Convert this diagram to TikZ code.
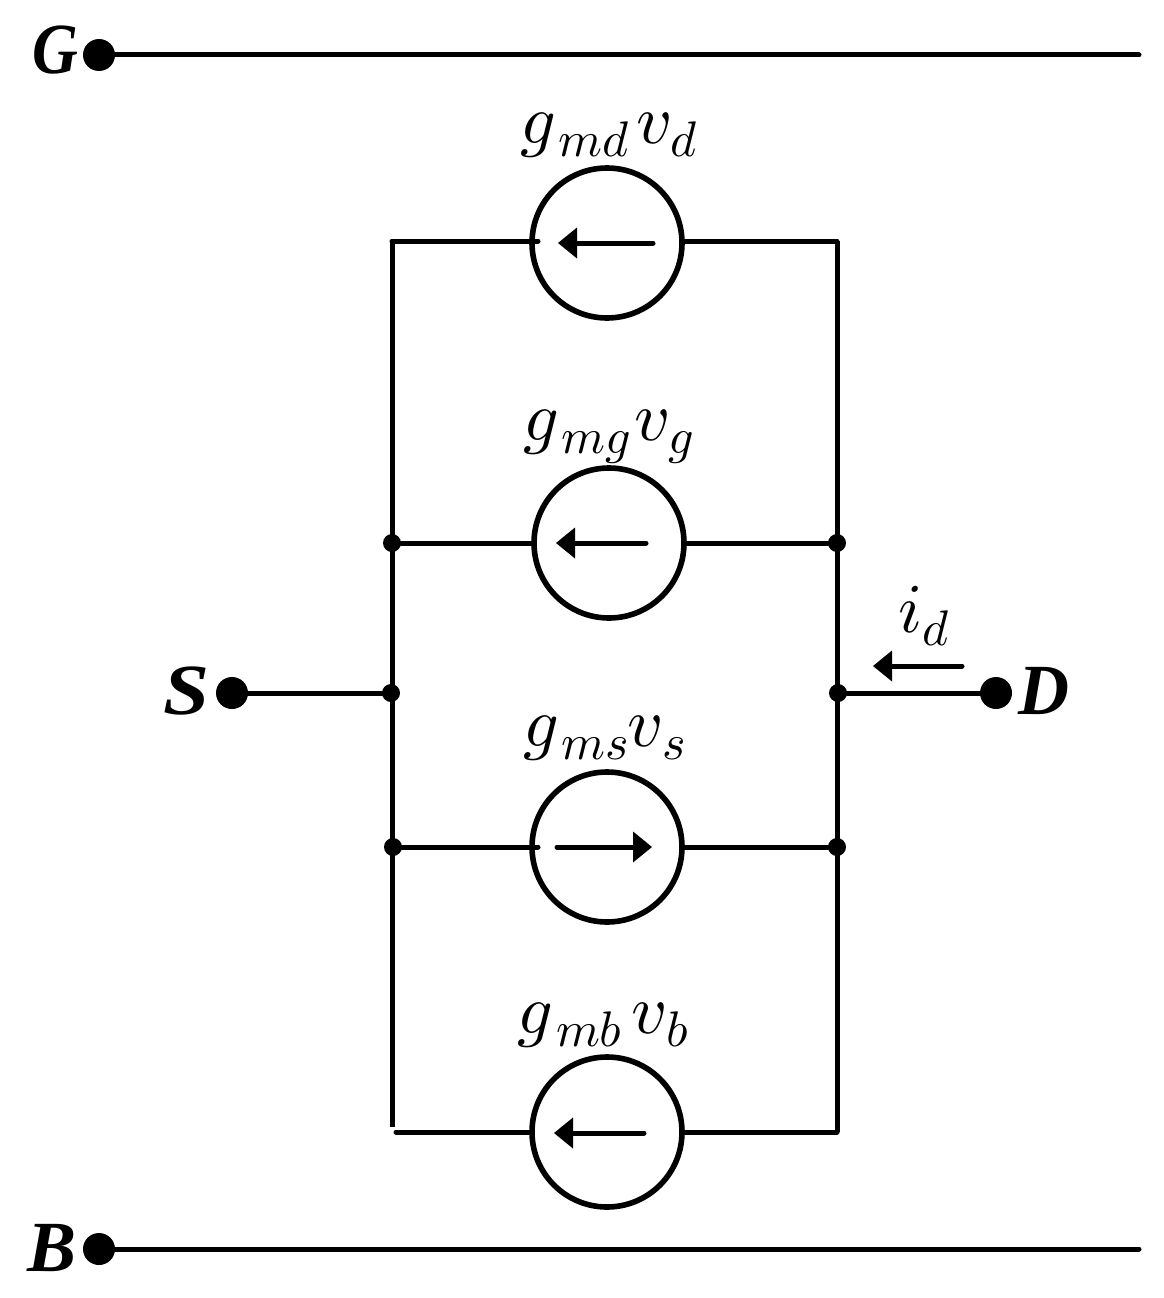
\documentclass[tikz,border=0pt]{standalone}
\usepackage{graphicx}
\usepackage{unicode-math}
\setmathfont{Latin Modern Math}
\newfontfamily\termfont{Liberation Serif}
\usetikzlibrary{arrows.meta}
\newcommand{\biglab}[2]{\fontsize{70}{70}\selectfont$#1$\kern3pt\raisebox{-13pt}{\fontsize{50}{50}\selectfont$#2$}}
\newcommand{\vlab}[2]{\fontsize{70}{70}\selectfont$#1$\kern0pt\raisebox{-13pt}{\fontsize{50}{50}\selectfont$#2$}}
\newcommand{\termtext}[2]{\scalebox{#1}[1]{\fontsize{72}{72}\selectfont\termfont\bfseries\itshape #2}}
\begin{document}
\begin{tikzpicture}[x=1pt,y=-1pt,
 wire/.style={line width=5pt,line cap=round},
 src/.style={circle,draw,line width=5.6pt,minimum size=150pt,inner sep=0pt,fill=white},
 junc/.style={circle,fill=black,minimum size=18pt,inner sep=0pt},
 term/.style={circle,fill=black,minimum size=32pt,inner sep=0pt},
 flow/.style={line width=5pt,line cap=round,-{Triangle[length=19pt,width=31pt,line width=0pt]}},
 lab/.style={inner sep=0pt,anchor=base}]
\useasboundingbox (0,0) rectangle (1164,1298);
% terminals
\node[term] (G) at (99,55) {};
\coordinate (Ge) at (1139,55);
\node[term] (B) at (99,1249) {};
\coordinate (Be) at (1139,1249);
\node[term] (S) at (232,693) {};
\node[term] (D) at (996,693) {};
\draw[wire] (G) -- (Ge);
\draw[wire] (B) -- (Be);
% corners
\coordinate (TL) at (392,241);
\coordinate (TR) at (837,241);
\coordinate (BLe) at (392,1127);
\coordinate (BR) at (837,1132);
\coordinate (BL2) at (396,1132);
\coordinate (i1) at (538,241);
\coordinate (i3) at (538,847);
% sources
\node[src] (s1) at (607,243) {};
\node[src] (s2) at (609,543) {};
\node[src] (s3) at (607,847) {};
\node[src] (s4) at (607,1132) {};
% junctions
\node[junc] (jl1) at (392,543) {};
\node[junc] (jr1) at (837,543) {};
\node[junc] (jl2) at (391,693) {};
\node[junc] (jr2) at (838,693) {};
\node[junc] (jl3) at (393,847) {};
\node[junc] (jr3) at (837,847) {};
\draw[line width=5pt] (TL) -- (BLe);
\draw[line width=5pt] (TR) -- (BR);
\draw[wire] (TL) -- (i1);
\draw[wire] (s1.east |- TR) -- (TR);
\draw[wire] (jl1) -- (s2);
\draw[wire] (s2) -- (jr1);
\draw[wire] (jl3) -- (i3);
\draw[wire] (s3) -- (jr3);
\draw[wire] (BL2) -- (s4.west);
\draw[wire] (s4.east) -- (BR);
\draw[wire] (S) -- (jl2);
\draw[wire] (jr2) -- (D);
% arrows
\coordinate (a1s) at (653,243); \coordinate (a1e) at (558,243);
\coordinate (a2s) at (646,543); \coordinate (a2e) at (556,543);
\coordinate (a3s) at (557,847); \coordinate (a3e) at (652,847);
\coordinate (a4s) at (644,1133); \coordinate (a4e) at (554,1133);
\coordinate (a5s) at (962,666); \coordinate (a5e) at (873,666);
\draw[flow] (a1s) -- (a1e);
\draw[flow] (a2s) -- (a2e);
\draw[flow] (a3s) -- (a3e);
\draw[flow] (a4s) -- (a4e);
\draw[flow] (a5s) -- (a5e);
% labels
\node[lab] (l1g) at (575,143) {\biglab{g}{md}};
\node[lab] (l1v) at (667,143) {\vlab{v}{d}};
\node[lab] (l2g) at (577,440) {\biglab{g}{mg}};
\node[lab] (l2v) at (664,440) {\vlab{v}{g}};
\node[lab] (l3g) at (576,746) {\biglab{g}{ms}};
\node[lab] (l3v) at (657,746) {\vlab{v}{s}};
\node[lab] (l4g) at (570,1033) {\biglab{g}{mb}};
\node[lab] (l4v) at (660,1033) {\vlab{v}{b}};
\node[lab] (l5) at (924,632) {\vlab{i}{d}};
\node[lab] (tG) at (55,74) {\termtext{.88}{G}};
\node[lab] (tB) at (52,1271) {\termtext{1.02}{B}};
\node[lab] (tS) at (187,714) {\termtext{1.15}{S}};
\node[lab] (tD) at (1044,714) {\termtext{.98}{D}};
\end{tikzpicture}
\end{document}
